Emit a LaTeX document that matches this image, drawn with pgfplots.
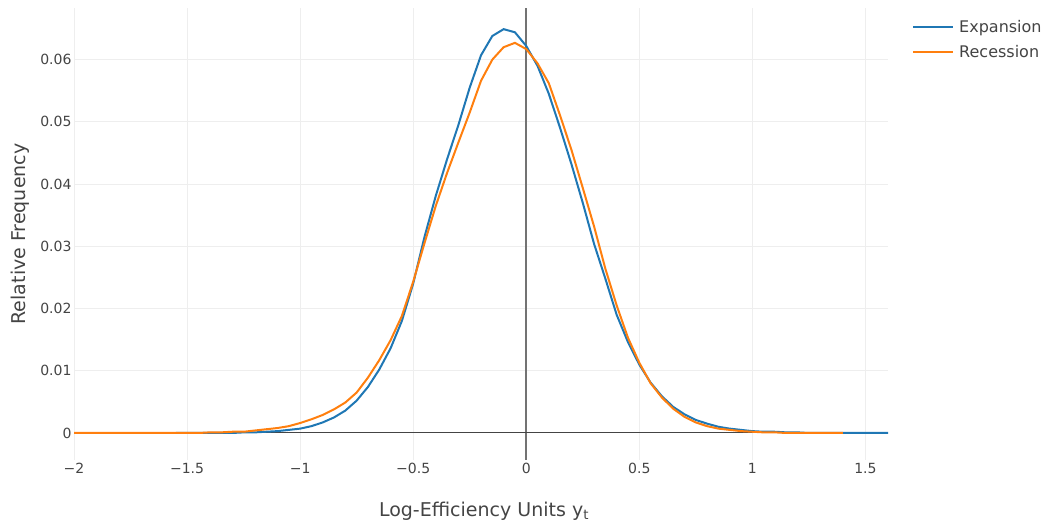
\documentclass[border=0pt]{standalone}
\usepackage{pgfplots}
\pgfplotsset{compat=1.18}
\usepackage{fontspec}
\setmainfont{DejaVu Sans}
\definecolor{cblue}{HTML}{1F77B4}
\definecolor{corange}{HTML}{FF7F0E}
\definecolor{txt}{HTML}{444444}
\definecolor{gridc}{HTML}{EEEEEE}
\begin{document}
\begin{tikzpicture}
\path[use as bounding box] (0,0) rectangle (1044pt,527pt);
\begin{axis}[
  at={(74pt,67pt)}, anchor=south west,
  scale only axis, width=814pt, height=452pt,
  xmin=-2, xmax=1.6, ymin=-0.00434, ymax=0.0683,
  xtick={-2,-1.5,-1,-0.5,0,0.5,1,1.5},
  xticklabels={−2,−1.5,−1,−0.5,0,0.5,1,1.5},
  ytick={0,0.01,0.02,0.03,0.04,0.05,0.06},
  yticklabels={0,0.01,0.02,0.03,0.04,0.05,0.06},
  tick label style={font=\fontsize{14}{16}\selectfont, text=txt},
  xticklabel style={yshift=0pt},
  yticklabel style={xshift=1pt},
  grid=major, major grid style={draw=gridc, line width=1pt},
  axis line style={draw=none}, tick style={draw=none},
  xlabel={Log-Efficiency Units y\textsubscript{t}},
  ylabel={Relative Frequency},
  label style={font=\fontsize{19}{22}\selectfont, text=txt},
  xlabel style={at={(axis description cs:0.5,0)}, anchor=center, yshift=-51pt, xshift=3pt},
  ylabel style={at={(axis description cs:-0.0663,0.5)}, anchor=center},
  legend style={at={(rel axis cs:1,1)}, anchor=north west, xshift=21pt, yshift=-8pt,
    draw=none, fill=none, font=\fontsize{16}{19}\selectfont, text=txt,
    row sep=7pt, /tikz/every odd column/.append style={column sep=3pt}},
  legend cell align=left,
  legend image code/.code={\draw[#1] (0pt,0pt) -- (40pt,0pt);},
]
\draw[draw=gray!90!black, line width=1.5pt] (axis cs:0,-0.00434) -- (axis cs:0,0.0683);
\draw[draw=txt, line width=1pt] (axis cs:-2,0) -- (axis cs:1.6,0);
\addplot[cblue, line width=2pt] coordinates {
(-1.55,0.0000) (-1.50,0.0000) (-1.45,0.0000) (-1.40,0.0000) (-1.35,0.0000) (-1.30,0.0000)
(-1.25,0.0001) (-1.20,0.0001) (-1.15,0.0002) (-1.10,0.0003) (-1.05,0.0005) (-1.00,0.0007)
(-0.95,0.0011) (-0.90,0.0017) (-0.85,0.0025) (-0.80,0.0036) (-0.75,0.0052) (-0.70,0.0074)
(-0.65,0.0102) (-0.60,0.0136) (-0.55,0.0180) (-0.50,0.0240) (-0.45,0.0315) (-0.40,0.0381)
(-0.35,0.0440) (-0.30,0.0495) (-0.25,0.0555) (-0.20,0.0607) (-0.15,0.0638) (-0.10,0.0649)
(-0.05,0.0644) (0.00,0.0622) (0.05,0.0590) (0.10,0.0545) (0.15,0.0490) (0.20,0.0432)
(0.25,0.0370) (0.30,0.0304) (0.35,0.0248) (0.40,0.0190) (0.45,0.0146) (0.50,0.0110)
(0.55,0.0081) (0.60,0.0059) (0.65,0.0042) (0.70,0.0030) (0.75,0.0021) (0.80,0.0015)
(0.85,0.0010) (0.90,0.0007) (0.95,0.0005) (1.00,0.0003) (1.05,0.0002) (1.10,0.0002)
(1.15,0.0001) (1.20,0.0001) (1.25,0.0000) (1.30,0.0000) (1.35,0.0000) (1.40,0.0000)
(1.45,0.0000) (1.50,0.0000) (1.55,0.0000) (1.60,0.0000)
};
\addlegendentry{Expansion}
\addplot[corange, line width=2pt] coordinates {
(-2.00,0.0000) (-1.95,0.0000) (-1.90,0.0000) (-1.85,0.0000) (-1.80,0.0000) (-1.75,0.0000)
(-1.70,0.0000) (-1.65,0.0000) (-1.60,0.0000) (-1.55,0.0000) (-1.50,0.0000) (-1.45,0.0000)
(-1.40,0.0001) (-1.35,0.0001) (-1.30,0.0002) (-1.25,0.0002) (-1.20,0.0004) (-1.15,0.0006)
(-1.10,0.0008) (-1.05,0.0011) (-1.00,0.0016) (-0.95,0.0022) (-0.90,0.0029) (-0.85,0.0038)
(-0.80,0.0049) (-0.75,0.0065) (-0.70,0.0089) (-0.65,0.0117) (-0.60,0.0149) (-0.55,0.0188)
(-0.50,0.0243) (-0.45,0.0305) (-0.40,0.0365) (-0.35,0.0418) (-0.30,0.0467) (-0.25,0.0515)
(-0.20,0.0566) (-0.15,0.0600) (-0.10,0.0620) (-0.05,0.0627) (0.00,0.0617) (0.05,0.0594)
(0.10,0.0562) (0.15,0.0510) (0.20,0.0455) (0.25,0.0394) (0.30,0.0332) (0.35,0.0264)
(0.40,0.0205) (0.45,0.0153) (0.50,0.0113) (0.55,0.0080) (0.60,0.0057) (0.65,0.0039)
(0.70,0.0026) (0.75,0.0017) (0.80,0.0011) (0.85,0.0007) (0.90,0.0005) (0.95,0.0003)
(1.00,0.0002) (1.05,0.0001) (1.10,0.0001) (1.15,0.0000) (1.20,0.0000) (1.25,0.0000)
(1.30,0.0000) (1.35,0.0000) (1.40,0.0000)
};
\addlegendentry{Recession}
\end{axis}
\end{tikzpicture}
\end{document}
